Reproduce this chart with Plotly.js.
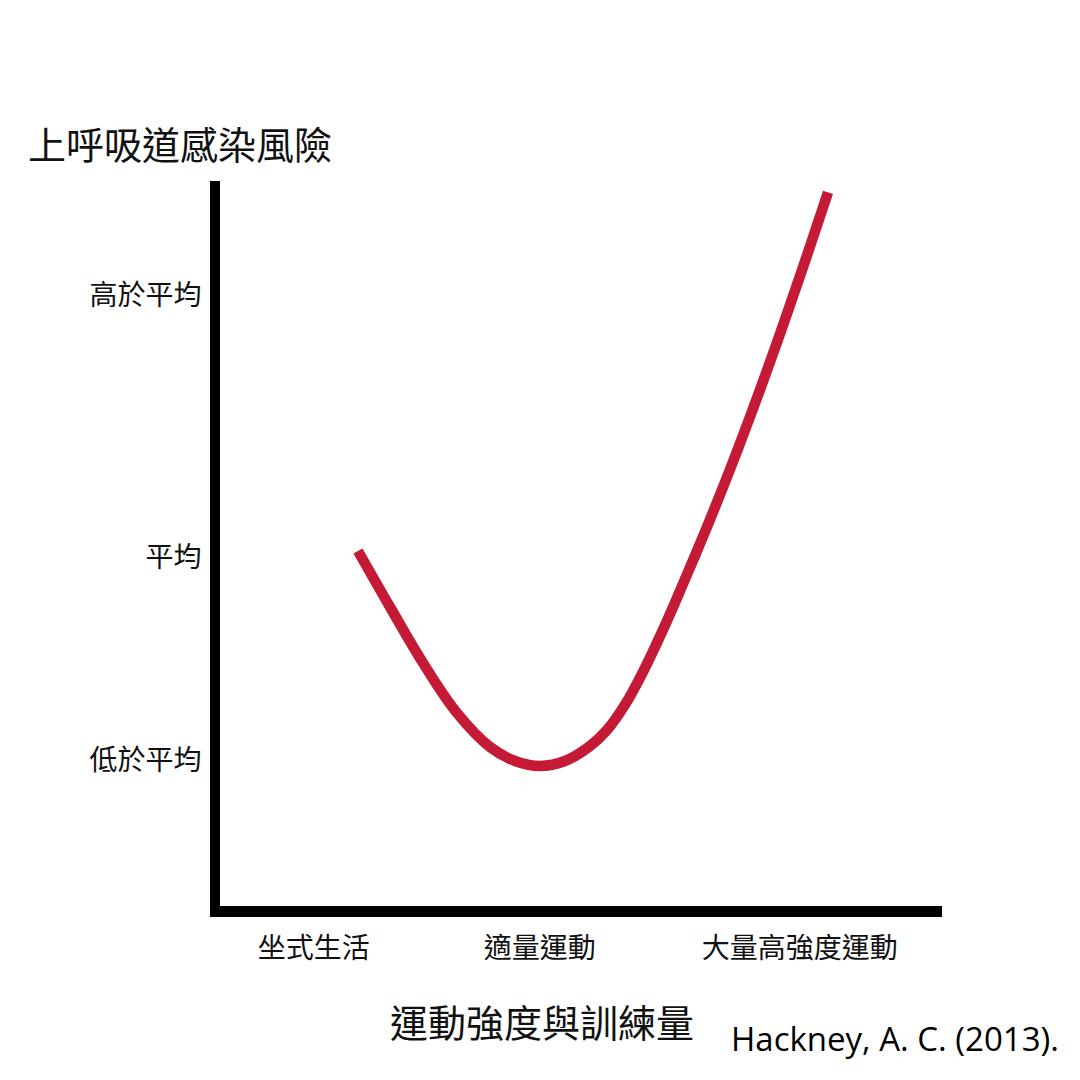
<!DOCTYPE html>
<html>
<head>
<meta charset="utf-8">
<script src="https://cdn.plot.ly/plotly-3.0.1.min.js"></script>
<style>html,body{margin:0;padding:0;background:#fff;}#chart{width:1080px;height:1080px;}</style>
</head>
<body>
<div id="chart"></div>
<script>
// Data (arbitrary units: intensity 0-100, risk 0-100)
const intensity = [19.11, 23.55, 28.12, 32.83, 37.40, 40.86, 44.32, 47.78, 51.25, 53.60, 56.09, 58.86, 60.94, 63.02, 66.07, 68.28, 70.64, 73.41, 76.18, 78.95, 81.72, 84.21];
const risk      = [48.97, 41.24, 33.52, 26.62, 21.93, 20.00, 19.31, 20.00, 22.07, 24.28, 27.75, 32.85, 37.20, 41.85, 48.98, 54.32, 60.22, 67.48, 75.03, 82.90, 90.98, 98.43];
const xTickVals = [13.0, 44.3, 80.3];
const xTickText = ['坐式生活', '適量運動', '大量高強度運動'];
const yTickVals = [20.1, 48.1, 84.3];
const yTickText = ['低於平均', '平均', '高於平均'];
const yTitle = '上呼吸道感染風險';
const xTitle = '運動強度與訓練量';
const citation = 'Hackney, A. C. (2013).';

const cjk = '"Noto Sans CJK TC", "Noto Sans CJK SC", sans-serif';

const trace = {
  x: intensity, y: risk, type: 'scatter', mode: 'lines',
  line: {color: '#C51A36', width: 10.5, shape: 'spline', smoothing: 1.1},
  hoverinfo: 'skip'
};

const layout = {
  width: 1080, height: 1080,
  paper_bgcolor: '#ffffff', plot_bgcolor: '#ffffff',
  margin: {l: 220, r: 138, t: 181, b: 174},
  showlegend: false,
  title: {
    text: yTitle, xref: 'container', yref: 'container',
    x: 28/1080, xanchor: 'left', y: 1 - 146/1080, yanchor: 'middle',
    font: {family: cjk, size: 38, color: '#111'}
  },
  xaxis: {
    range: [0, 100], showgrid: false, zeroline: false,
    showline: true, linecolor: '#000', linewidth: 11,
    tickvals: xTickVals, ticktext: xTickText, ticks: '',
    ticklabelstandoff: 7,
    tickfont: {family: cjk, size: 28, color: '#111'}, fixedrange: true
  },
  yaxis: {
    range: [0, 100], showgrid: false, zeroline: false,
    showline: true, linecolor: '#000', linewidth: 10,
    tickvals: yTickVals, ticktext: yTickText, ticks: '',
    ticklabelstandoff: 3,
    tickfont: {family: cjk, size: 28, color: '#111'}, fixedrange: true
  },
  annotations: [
    {text: xTitle, xref: 'paper', yref: 'paper', x: (542-220)/722, y: (906-1020)/725,
     xanchor: 'center', yanchor: 'middle', showarrow: false,
     font: {family: cjk, size: 38, color: '#111'}},
    {text: citation, xref: 'paper', yref: 'paper', x: (1061-220)/722, y: (906-1038)/725,
     xanchor: 'right', yanchor: 'middle', showarrow: false,
     font: {family: '"Open Sans", sans-serif', size: 33, color: '#000'}}
  ]
};

Plotly.newPlot('chart', [trace], layout, {displayModeBar: false, staticPlot: true});
</script>
</body>
</html>
